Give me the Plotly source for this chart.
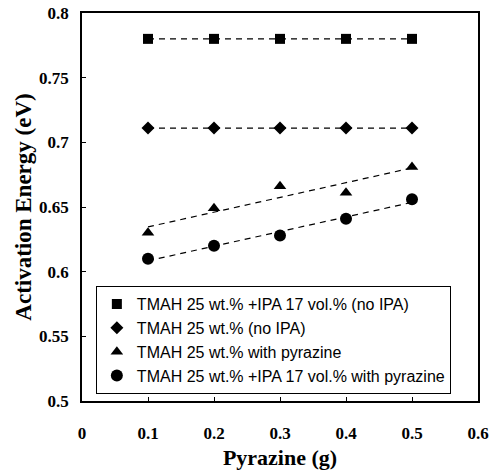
import numpy as np
import plotly.graph_objects as go

pyrazine = [0.1, 0.2, 0.3, 0.4, 0.5]
tmah_ipa_noipa = [0.780, 0.780, 0.780, 0.780, 0.780]
tmah_noipa = [0.711, 0.711, 0.711, 0.711, 0.711]
tmah_pyr = [0.630, 0.649, 0.666, 0.661, 0.681]
tmah_ipa_pyr = [0.610, 0.620, 0.628, 0.641, 0.656]

names = ["TMAH 25 wt.% +IPA 17 vol.% (no IPA)",
         "TMAH 25 wt.% (no IPA)",
         "TMAH 25 wt.% with pyrazine",
         "TMAH 25 wt.% +IPA 17 vol.% with pyrazine"]
symbols = ["square", "diamond", "triangle-up", "circle"]
sizes = [10, 10, 11, 12]
series = [tmah_ipa_noipa, tmah_noipa, tmah_pyr, tmah_ipa_pyr]

fig = go.Figure()
x = np.array(pyrazine)
for i, (nm, sym, sz, ys) in enumerate(zip(names, symbols, sizes, series)):
    k, b = np.polyfit(x, np.array(ys), 1)
    fig.add_trace(go.Scatter(x=x, y=k * x + b, mode="lines",
                             line=dict(color="black", width=1.2, dash="6px,5px"),
                             showlegend=False, hoverinfo="skip"))
for i, (nm, sym, sz, ys) in enumerate(zip(names, symbols, sizes, series)):
    fig.add_trace(go.Scatter(x=pyrazine, y=ys, mode="markers", name=nm,
                             legendgroup=str(i),
                             marker=dict(symbol=sym, size=sz, color="black")))

tickfont = dict(family="Liberation Serif", size=17, color="black", weight="bold")
fig.update_layout(
    width=493, height=472,
    margin=dict(l=82, r=15, t=13, b=71),
    plot_bgcolor="white", paper_bgcolor="white",
    showlegend=True,
    legend=dict(x=0.035, y=0.296, xanchor="left", yanchor="top",
                bordercolor="black", borderwidth=1, bgcolor="white",
                font=dict(family="Liberation Sans", size=16, color="black"),
                tracegroupgap=0, itemwidth=30, traceorder="grouped"),
    xaxis=dict(range=[0, 0.6], dtick=0.1, tick0=0, ticks="inside", ticklen=4,
               tickcolor="black", showline=True, linecolor="black", linewidth=1.5,
               mirror=True, showgrid=False, zeroline=False, automargin=False,
               tickfont=tickfont, ticklabelstandoff=16, tickformat="~g",
               title=dict(text="Pyrazine (g)", standoff=7,
                          font=dict(family="Liberation Serif", size=22,
                                    color="black", weight="bold"))),
    yaxis=dict(range=[0.5, 0.8], dtick=0.05, tick0=0.5, ticks="inside", ticklen=4,
               tickcolor="black", showline=True, linecolor="black", linewidth=1.5,
               mirror=True, showgrid=False, zeroline=False, automargin=False,
               tickfont=tickfont, ticklabelstandoff=8, tickformat="~g",
               title=dict(text="Activation Energy (eV)", standoff=1,
                          font=dict(family="Liberation Serif", size=23,
                                    color="black", weight="bold"))),
)
fig.write_html("out.html", config={"displayModeBar": False},
               post_script="document.body.style.margin='0';document.body.style.overflow='hidden';")
